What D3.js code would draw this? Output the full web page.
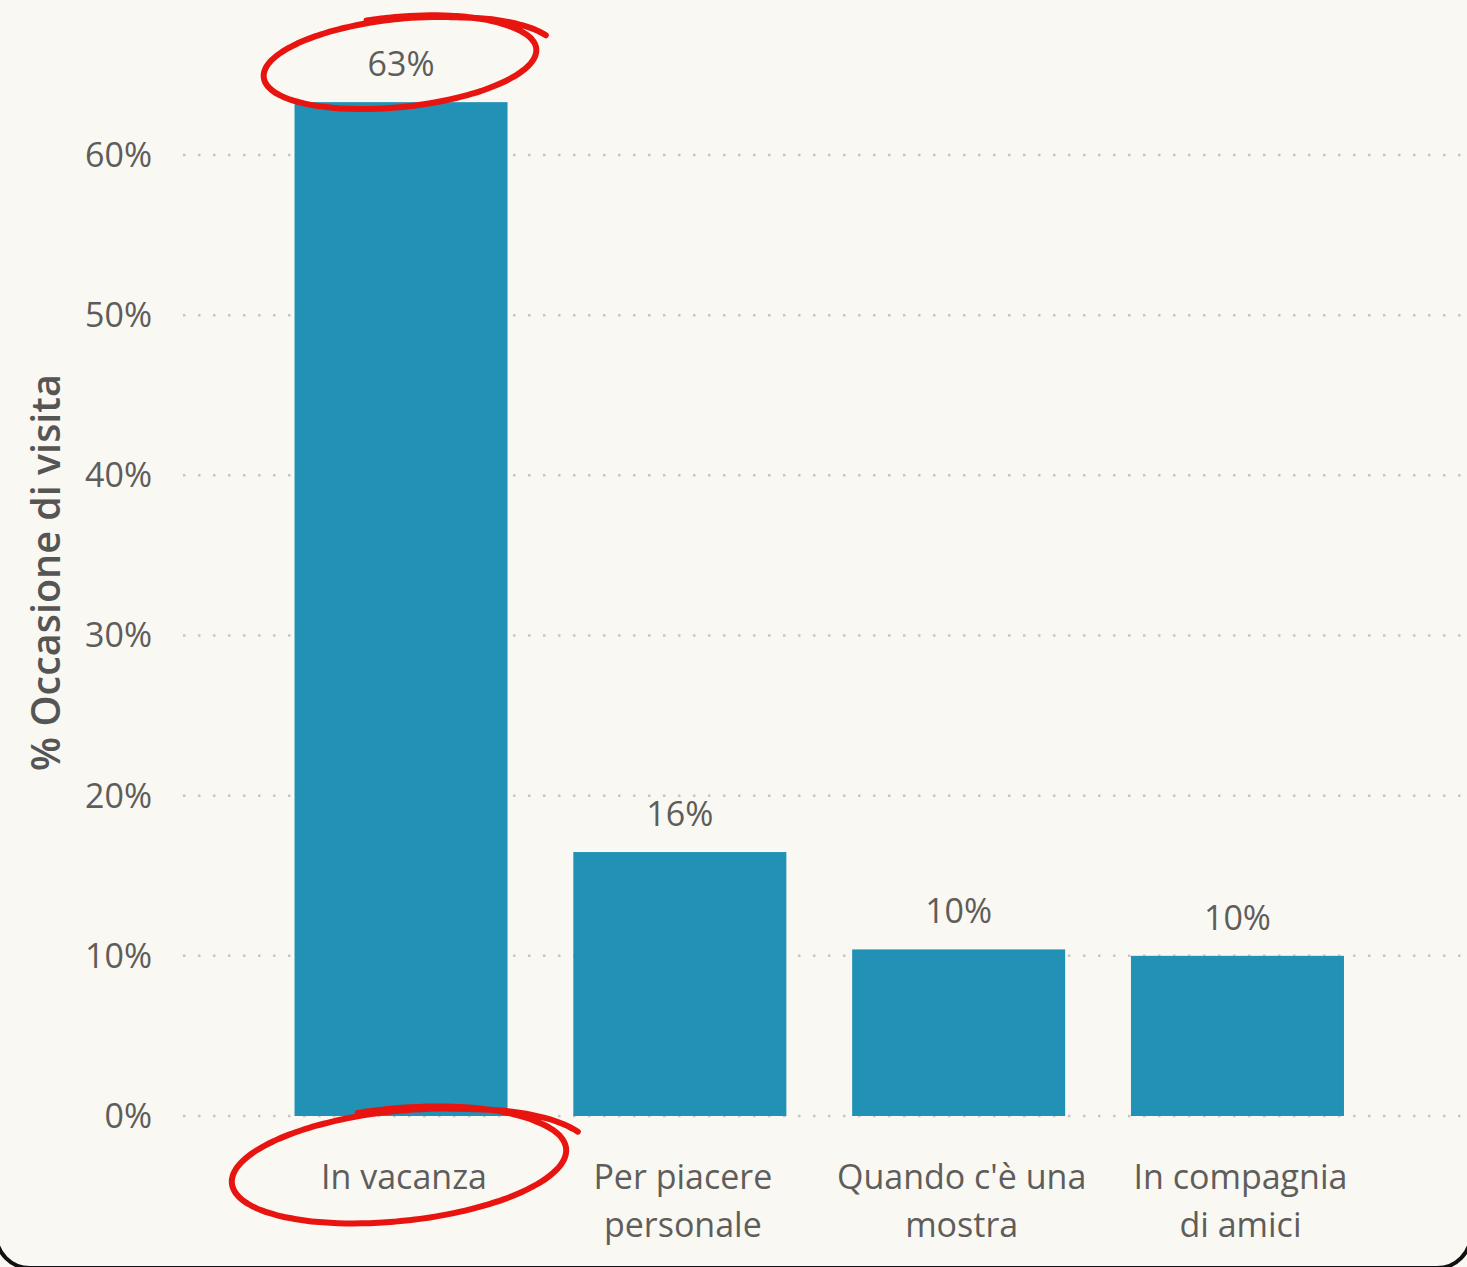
<!DOCTYPE html>
<html>
<head>
<meta charset="utf-8">
<script src="https://d3js.org/d3.v7.min.js"></script>
<style>
  body { margin: 0; background: #f9f8f2; }
  svg { display: block; }
</style>
</head>
<body>
<svg id="chart" width="1467" height="1267"></svg>
<script>
// data
const categories = ["In vacanza", "Per piacere personale", "Quando c'è una mostra", "In compagnia di amici"];
const catLines = [["In vacanza"], ["Per piacere", "personale"], ["Quando c'è una", "mostra"], ["In compagnia", "di amici"]];
const values = [0.633, 0.1648, 0.104, 0.100];
const yTicks = [0, 0.1, 0.2, 0.3, 0.4, 0.5, 0.6];
const yTitle = "% Occasione di visita";

const svg = d3.select("#chart");
const W = +svg.attr("width"), H = +svg.attr("height");
const font = "'Open Sans', 'Noto Sans', sans-serif";
const textCol = "#5f5d5b";

// card background, rounded border only visible at bottom corners
svg.append("rect").attr("x", -4).attr("y", -100).attr("width", W + 8).attr("height", H + 101)
   .attr("rx", 34).attr("fill", "#f9f8f2").attr("stroke", "#111").attr("stroke-width", 4);

const y = d3.scaleLinear().domain([0, 0.6]).range([1116, 155]);
const x = d3.scaleBand().domain(categories).range([183, 1455.5]).paddingInner(0.236).paddingOuter(0.4);

// dotted gridlines
svg.append("g").selectAll("line").data(yTicks).join("line")
   .attr("x1", 183).attr("x2", W).attr("y1", d => y(d)).attr("y2", d => y(d))
   .attr("stroke", "#c8c6c4").attr("stroke-width", 2.5).attr("stroke-dasharray", "2.5,12.5");

// y tick labels
svg.append("g").selectAll("text").data(yTicks).join("text")
   .attr("x", 152).attr("y", d => y(d)).attr("dy", "0.35em")
   .attr("text-anchor", "end").attr("font-family", font).attr("font-size", 34)
   .attr("fill", textCol).text(d3.format(".0%"));

// y title
svg.append("text").attr("transform", `translate(60, ${(375 + 770) / 2}) rotate(-90)`)
   .attr("text-anchor", "middle").attr("font-family", font).attr("font-weight", 600)
   .attr("font-size", 39.5).attr("fill", "#555").text(yTitle);

// bars
svg.append("g").selectAll("rect").data(values).join("rect")
   .attr("x", (d, i) => x(categories[i])).attr("width", x.bandwidth())
   .attr("y", d => y(d)).attr("height", d => y(0) - y(d))
   .attr("fill", "#2191b5");

// value labels
svg.append("g").selectAll("text").data(values).join("text")
   .attr("x", (d, i) => x(categories[i]) + x.bandwidth() / 2).attr("y", d => y(d) - 26)
   .attr("text-anchor", "middle").attr("font-family", font).attr("font-size", 34)
   .attr("fill", textCol).text(d3.format(".0%"));

// category labels
const cat = svg.append("g").selectAll("text").data(catLines).join("text")
   .attr("text-anchor", "middle").attr("font-family", font).attr("font-size", 34)
   .attr("fill", textCol);
cat.each(function(lines, i) {
  const cx = x(categories[i]) + x.bandwidth() / 2 + 3;
  lines.forEach((l, j) => {
    d3.select(this).append("tspan").attr("x", cx).attr("y", 1189 + j * 48).text(l);
  });
});

// hand-drawn red ellipses
function scribble(cx, cy, rx, ry, rot, t0, t1, tail) {
  const phi = rot * Math.PI / 180;
  const pts = [];
  for (let t = t0; t <= t1; t += 0.05) {
    let s = 1 + 0.06 * Math.max(0, 1 - (t - t0) / 1.2) + tail * Math.max(0, (t - (t1 - 0.9)) / 0.9);
    const ex = rx * s * Math.cos(t), ey = ry * s * Math.sin(t);
    pts.push([cx + ex * Math.cos(phi) - ey * Math.sin(phi), cy + ex * Math.sin(phi) + ey * Math.cos(phi)]);
  }
  return d3.line().curve(d3.curveCatmullRom)(pts);
}
const ann = svg.append("g").attr("fill", "none").attr("stroke", "#e8140f")
   .attr("stroke-linecap", "round");
ann.append("path").attr("d", scribble(400, 63, 137, 44, -6, -Math.PI / 2 - 0.2, 1.5 * Math.PI + 1.35, 0.12))
   .attr("stroke-width", 6);
ann.append("path").attr("d", scribble(399, 1166, 168, 55, -6, -Math.PI / 2 - 0.2, 1.5 * Math.PI + 1.35, 0.12))
   .attr("stroke-width", 6);
</script>
</body>
</html>
